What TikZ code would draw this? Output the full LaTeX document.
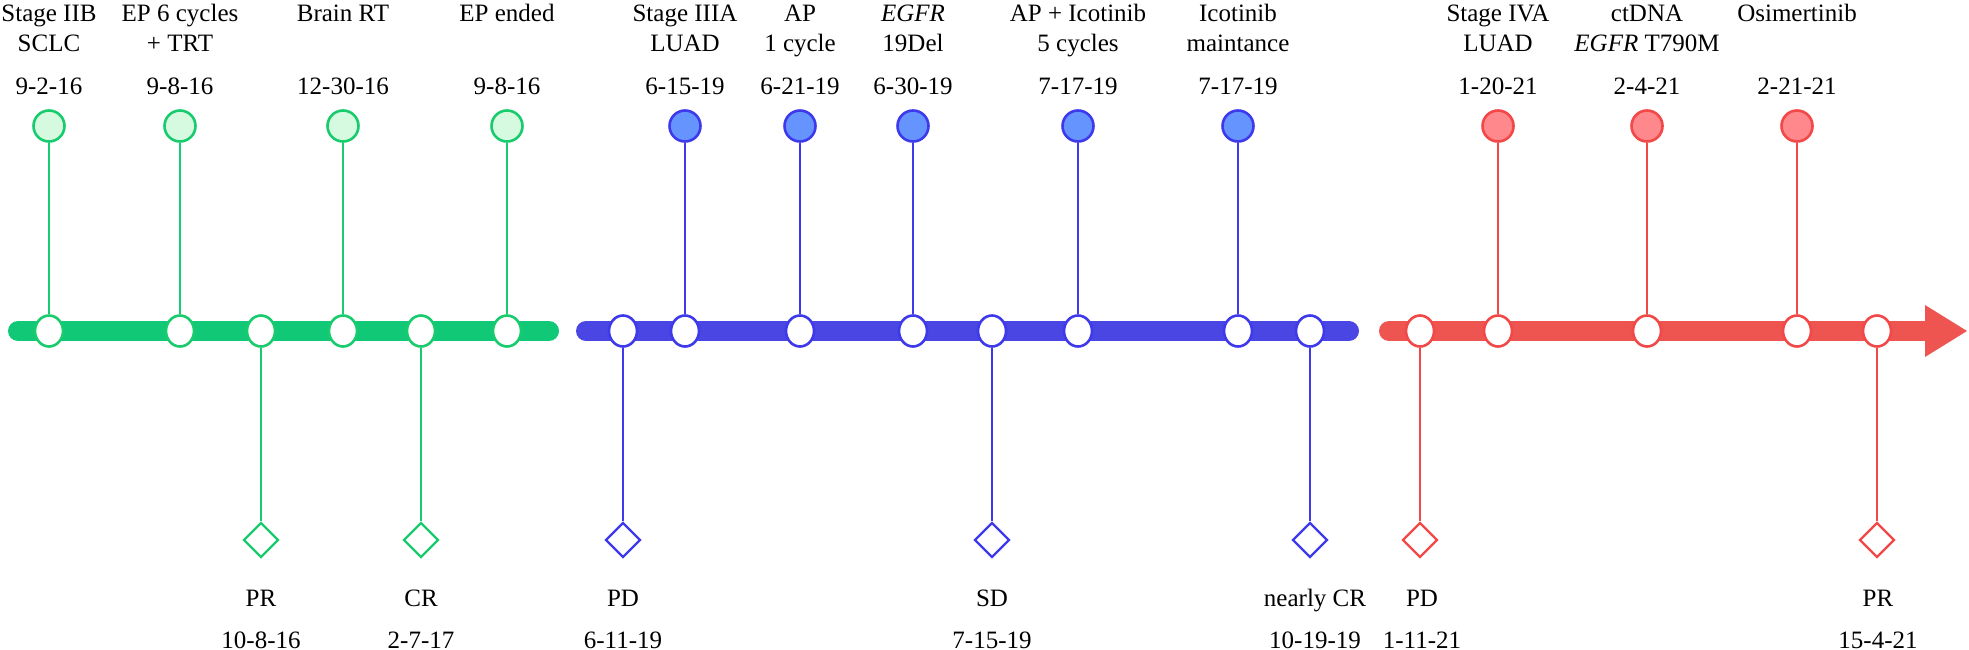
\documentclass[tikz,border=0pt]{standalone}
\usepackage{fontspec}
\setmainfont{Liberation Serif}
\usetikzlibrary{shapes.geometric}
\definecolor{gbar}{RGB}{16,200,118}
\definecolor{gline}{RGB}{24,204,110}
\definecolor{gfill}{RGB}{214,250,224}
\definecolor{bbar}{RGB}{74,70,228}
\definecolor{bline}{RGB}{62,58,235}
\definecolor{bfill}{RGB}{102,148,255}
\definecolor{rbar}{RGB}{238,84,80}
\definecolor{rline}{RGB}{242,72,72}
\definecolor{rfill}{RGB}{255,136,140}
\tikzset{
  topdot/.style={circle, draw=#1, line width=2.6pt, minimum size=31pt, inner sep=0pt},
  bardot/.style={ellipse, draw=#1, fill=white, line width=2.6pt, minimum width=28pt, minimum height=31pt, inner sep=0pt},
  resp/.style={diamond, draw=#1, fill=white, line width=2.4pt, minimum width=35pt, minimum height=35pt, inner sep=0pt},
  stem/.style={line width=2.6pt},
  bar/.style={line width=20pt, line cap=round},
  lbl/.style={font=\fontsize{25}{30}\selectfont, anchor=base, inner sep=0pt}
}
% top event with two label lines
\newcommand\TopTwo[6]{%
  \node[lbl] (#1la) at (#2,22) {#4};
  \node[lbl] (#1lb) at (#2,52) {#5};
  \node[lbl] (#1d) at (#2,95) {#6};
  \node[topdot=#3line, fill=#3fill] (#1t) at (#2,126) {};
  \node[bardot=#3line] (#1b) at (#2,331) {};
  \draw[stem,#3line] (#1t) -- (#1b);
}
% top event with one label line
\newcommand\TopOne[5]{%
  \node[lbl] (#1la) at (#2,22) {#4};
  \node[lbl] (#1d) at (#2,95) {#5};
  \node[topdot=#3line, fill=#3fill] (#1t) at (#2,126) {};
  \node[bardot=#3line] (#1b) at (#2,331) {};
  \draw[stem,#3line] (#1t) -- (#1b);
}
% bottom (response) event
\newcommand\BotEv[6]{%
  \node[bardot=#3line] (#1b) at (#2,331) {};
  \node[resp=#3line] (#1r) at (#2,540) {};
  \draw[stem,#3line] (#1b) -- (#1r);
  \node[lbl] (#1l) at (#6,606) {#4};
  \node[lbl] (#1d) at (#6,648) {#5};
}
\begin{document}
\begin{tikzpicture}[x=1pt,y=-1pt]
\useasboundingbox (0,0) rectangle (1969,650);
% bars
\coordinate (gs) at (18,331); \coordinate (ge) at (549,331);
\coordinate (bs) at (586,331); \coordinate (be) at (1349,331);
\coordinate (rs) at (1389,331); \coordinate (re) at (1930,331);
\coordinate (ha) at (1925,305); \coordinate (hb) at (1967,331); \coordinate (hc) at (1925,357);
\draw[bar,gbar] (gs) -- (ge);
\draw[bar,bbar] (bs) -- (be);
\draw[bar,rbar] (rs) -- (re);
\fill[rbar] (ha) -- (hb) -- (hc) -- cycle;
% green phase
\TopTwo{ga}{49}{g}{Stage IIB}{SCLC}{9-2-16}
\TopTwo{gb}{180}{g}{EP 6 cycles}{+ TRT}{9-8-16}
\BotEv{gc}{261}{g}{PR}{10-8-16}{261}
\TopOne{gd}{343}{g}{Brain RT}{12-30-16}
\BotEv{ge}{421}{g}{CR}{2-7-17}{421}
\TopOne{gf}{507}{g}{EP ended}{9-8-16}
% blue phase
\BotEv{ba}{623}{b}{PD}{6-11-19}{623}
\TopTwo{bb}{685}{b}{Stage IIIA}{LUAD}{6-15-19}
\TopTwo{bc}{800}{b}{AP}{1 cycle}{6-21-19}
\TopTwo{bd}{913}{b}{\textit{EGFR}}{19Del}{6-30-19}
\BotEv{be}{992}{b}{SD}{7-15-19}{992}
\TopTwo{bf}{1078}{b}{AP + Icotinib}{5 cycles}{7-17-19}
\TopTwo{bg}{1238}{b}{Icotinib}{maintance}{7-17-19}
\BotEv{bh}{1310}{b}{nearly CR}{10-19-19}{1315}
% red phase
\BotEv{ra}{1420}{r}{PD}{1-11-21}{1422}
\TopTwo{rb}{1498}{r}{Stage IVA}{LUAD}{1-20-21}
\TopTwo{rc}{1647}{r}{ctDNA}{\textit{EGFR} T790M}{2-4-21}
\TopOne{rd}{1797}{r}{Osimertinib}{2-21-21}
\BotEv{re}{1877}{r}{PR}{15-4-21}{1878}
\end{tikzpicture}
\end{document}
